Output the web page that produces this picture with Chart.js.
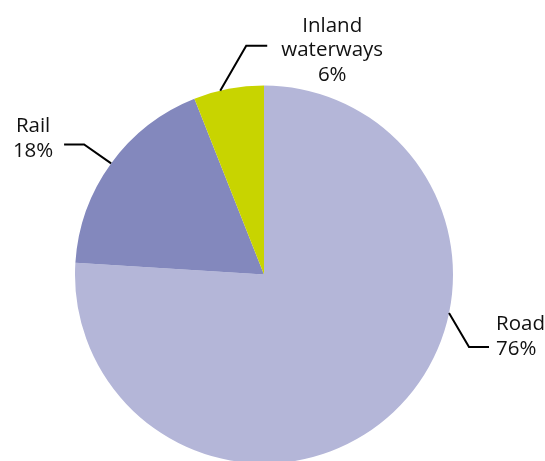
<!DOCTYPE html>
<html>
<head>
<meta charset="utf-8">
<script src="https://cdn.jsdelivr.net/npm/chart.js@4.4.1/dist/chart.umd.min.js"></script>
<style>
  html, body { margin: 0; padding: 0; background: #fff; overflow: hidden; }
  #wrap { width: 545px; height: 470px; }
</style>
</head>
<body>
<div id="wrap"><canvas id="modeChart"></canvas></div>
<script>
const categories = ['Road', 'Rail', 'Inland waterways'];
const shares = [76, 18, 6];
const labelText = [['Road'], ['Rail'], ['Inland', 'waterways']];
const colours = ['#b4b6d8', '#8388bd', '#c8d400'];

// where each leader line leaves its slice (fraction of the slice's sweep),
// then elbow offset, horizontal run, and first text baseline relative to the run's end
const leaders = [
    { at: 0.372, elbow: [20, 34], run: 20, text: [7, -17], align: 'left' },
    { at: 0.5, elbow: [-27, -19], run: -20, text: [-31, -12], align: 'center' },
    { at: 0.38, elbow: [26, -45], run: 21, text: [65, -14], align: 'center' }
];

const leaderPlugin = {
    id: 'leaders',
    afterDatasetsDraw(chart) {
        const ctx = chart.ctx;
        const arcs = chart.getDatasetMeta(0).data;
        ctx.save();
        ctx.strokeStyle = '#000';
        ctx.lineWidth = 2;
        ctx.fillStyle = '#111';
        ctx.font = '20.5px "Open Sans"';
        ctx.textBaseline = 'alphabetic';
        arcs.forEach((arc, i) => {
            const p = arc.getProps(['x', 'y', 'startAngle', 'endAngle', 'outerRadius'], true);
            const L = leaders[i];
            const a = p.startAngle + (p.endAngle - p.startAngle) * L.at;
            const sx = p.x + p.outerRadius * Math.cos(a);
            const sy = p.y + p.outerRadius * Math.sin(a);
            const ex = sx + L.elbow[0], ey = sy + L.elbow[1];
            const fx = ex + L.run;
            ctx.beginPath();
            ctx.moveTo(sx, sy);
            ctx.lineTo(ex, ey);
            ctx.lineTo(fx, ey);
            ctx.stroke();
            const lines = labelText[i].concat([shares[i] + '%']);
            ctx.textAlign = L.align;
            lines.forEach((t, k) => {
                ctx.fillText(t, fx + L.text[0], ey + L.text[1] + k * 24.5);
            });
        });
        ctx.restore();
    }
};

new Chart(document.getElementById('modeChart'), {
    type: 'pie',
    data: {
        labels: categories,
        datasets: [{
            data: shares,
            backgroundColor: colours,
            borderWidth: 0
        }]
    },
    options: {
        responsive: true,
        maintainAspectRatio: false,
        animation: false,
        layout: { padding: { left: 75, right: 92, top: 85.5, bottom: 6.5 } },
        plugins: {
            legend: { display: false },
            tooltip: { enabled: false }
        }
    },
    plugins: [leaderPlugin]
});
</script>
</body>
</html>
